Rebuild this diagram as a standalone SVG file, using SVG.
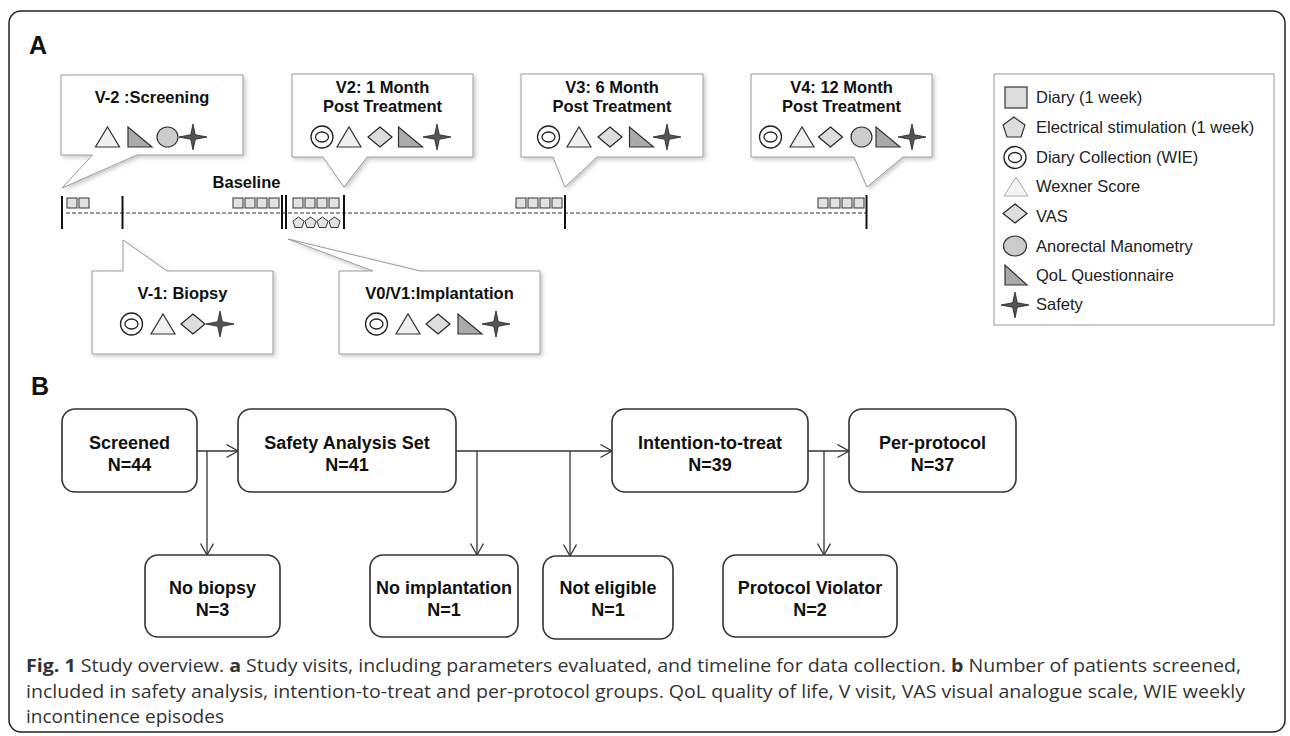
<svg xmlns="http://www.w3.org/2000/svg" width="1290" height="736" viewBox="0 0 1290 736">
<defs>
<style>
.panel{font-family:"Liberation Sans",Arial,sans-serif;font-weight:bold;font-size:25px;fill:#111}
.ct{font-family:"Liberation Sans",Arial,sans-serif;font-weight:bold;font-size:16.5px;fill:#111;text-anchor:middle}
.callout{fill:#fff;stroke:#9a9a9a;stroke-width:1;filter:url(#sh)}
.lg{font-family:"Liberation Sans",Arial,sans-serif;font-size:16.5px;fill:#222}
.nb{fill:#fff;stroke:#333;stroke-width:1.6}
.nt{font-family:"Liberation Sans",Arial,sans-serif;font-weight:bold;font-size:18px;fill:#111;text-anchor:middle}
.cn{fill:none;stroke:#333;stroke-width:1.3;marker-end:url(#ah)}
.tick{stroke:#111;stroke-width:2}
.cap{font-family:"Open Sans","Liberation Sans",sans-serif;font-size:18.5px;fill:#333}
.sq{fill:#e2e2e2;stroke:#333;stroke-width:1}
</style>
<filter id="sh" x="-10%" y="-10%" width="130%" height="130%">
<feDropShadow dx="2" dy="2" stdDeviation="2" flood-color="#000" flood-opacity="0.22"/>
</filter>
<marker id="ah" markerUnits="userSpaceOnUse" markerWidth="16" markerHeight="16" refX="12" refY="7" orient="auto">
<path d="M0.5,0.5 L12,7 L0.5,13.5" fill="none" stroke="#333" stroke-width="1.3"/>
</marker>
<g id="dc"><circle r="11" fill="#fff" stroke="#222" stroke-width="1.3"/><ellipse rx="6.5" ry="5" fill="#fff" stroke="#222" stroke-width="1.3"/></g>
<polygon id="tri" points="-12,10 12,10 0,-10" fill="#f0f0f0" stroke="#333" stroke-width="1.2"/>
<polygon id="dia" points="0,-10 12,0 0,10 -12,0" fill="#ddd" stroke="#222" stroke-width="1.2"/>
<polygon id="rt" points="-12,-10 -12,10 12,10" fill="#aaa" stroke="#333" stroke-width="1.2"/>
<ellipse id="ci" rx="10.5" ry="10" fill="#ccc" stroke="#333" stroke-width="1.2"/>
<path id="st" d="M0,-13 L2.3,-2.3 L14,0 L2.3,2.3 L0,13 L-2.3,2.3 L-14,0 L-2.3,-2.3 Z" fill="#555" stroke="#222" stroke-width="0.8"/>
<polygon id="pe" points="0,-5.5 5.6,-1.4 3.5,5 -3.5,5 -5.6,-1.4" fill="#e2e2e2" stroke="#333" stroke-width="1"/>
</defs>
<rect width="1290" height="736" fill="#fff"/>
<rect x="9" y="11" width="1276" height="721" rx="12" fill="none" stroke="#222" stroke-width="1.5"/>

<text class="panel" x="29" y="54">A</text>
<text class="panel" x="31" y="395">B</text>

<!-- timeline -->
<g id="timeline">
<line x1="66" y1="213" x2="866" y2="213" stroke="#333" stroke-width="1" stroke-dasharray="4 2"/>
<line class="tick" x1="62" y1="196" x2="62" y2="229"/>
<line class="tick" x1="122.5" y1="196" x2="122.5" y2="229"/>
<line class="tick" x1="282" y1="195" x2="282" y2="229"/>
<line class="tick" x1="286" y1="195" x2="286" y2="229"/>
<line class="tick" x1="344" y1="195" x2="344" y2="229"/>
<line class="tick" x1="565" y1="195" x2="565" y2="229"/>
<line class="tick" x1="866.5" y1="195" x2="866.5" y2="229"/>
<rect class="sq" x="67" y="198" width="10" height="10"/><rect class="sq" x="79" y="198" width="10" height="10"/>
<rect class="sq" x="233" y="198" width="10" height="10"/><rect class="sq" x="245" y="198" width="10" height="10"/><rect class="sq" x="257" y="198" width="10" height="10"/><rect class="sq" x="269" y="198" width="10" height="10"/>
<rect class="sq" x="293" y="198" width="10" height="10"/><rect class="sq" x="305" y="198" width="10" height="10"/><rect class="sq" x="317" y="198" width="10" height="10"/><rect class="sq" x="329" y="198" width="10" height="10"/>
<rect class="sq" x="516" y="198" width="10" height="10"/><rect class="sq" x="528" y="198" width="10" height="10"/><rect class="sq" x="540" y="198" width="10" height="10"/><rect class="sq" x="552" y="198" width="10" height="10"/>
<rect class="sq" x="818" y="198" width="10" height="10"/><rect class="sq" x="830" y="198" width="10" height="10"/><rect class="sq" x="842" y="198" width="10" height="10"/><rect class="sq" x="854" y="198" width="10" height="10"/>
<use href="#pe" x="298.5" y="222.5"/><use href="#pe" x="310.5" y="222.5"/><use href="#pe" x="322.5" y="222.5"/><use href="#pe" x="334.5" y="222.5"/>
<text class="ct" x="246.5" y="188">Baseline</text>
</g>

<!-- callouts -->
<g id="v-2">
<path class="callout" d="M61,75 H243 V155 H137 L62,188 L92.5,155 H61 Z"/>
<text class="ct" x="152" y="103">V-2 :Screening</text>
<use href="#tri" x="107.5" y="137"/><use href="#rt" x="140" y="137"/><use href="#ci" x="167.5" y="137"/><use href="#st" x="193" y="137"/>
</g>
<g id="v2">
<path class="callout" d="M292,74 H473 V157 H367 L344,187 L323,157 H292 Z"/>
<text class="ct" x="382.5" y="93">V2: 1 Month</text>
<text class="ct" x="382.5" y="112">Post Treatment</text>
<use href="#dc" x="322" y="137"/><use href="#tri" x="349" y="137"/><use href="#dia" x="380" y="137"/><use href="#rt" x="410.5" y="137"/><use href="#st" x="437" y="137"/>
</g>
<g id="v3">
<path class="callout" d="M521,74 H703 V157 H597 L565,187 L553,157 H521 Z"/>
<text class="ct" x="612" y="93">V3: 6 Month</text>
<text class="ct" x="612" y="112">Post Treatment</text>
<use href="#dc" x="548.5" y="137"/><use href="#tri" x="579" y="137"/><use href="#dia" x="610" y="137"/><use href="#rt" x="641.5" y="137"/><use href="#st" x="667" y="137"/>
</g>
<g id="v4">
<path class="callout" d="M751,74 H932 V157 H903 L867,187 L854,157 H751 Z"/>
<text class="ct" x="841.5" y="93">V4: 12 Month</text>
<text class="ct" x="841.5" y="112">Post Treatment</text>
<use href="#dc" x="770.5" y="137"/><use href="#tri" x="802" y="137"/><use href="#dia" x="830.5" y="137"/><use href="#ci" x="861.5" y="137"/><use href="#rt" x="888" y="137"/><use href="#st" x="912" y="137"/>
</g>
<g id="v-1">
<path class="callout" d="M92,271 H123 V240 L167,271 H273 V354 H92 Z"/>
<text class="ct" x="182.5" y="299">V-1: Biopsy</text>
<use href="#dc" x="131.5" y="324"/><use href="#tri" x="163" y="324"/><use href="#dia" x="193" y="324"/><use href="#st" x="220" y="324"/>
</g>
<g id="v0v1">
<path class="callout" d="M339,271 H373 L288,239 L420,271 H540 V354 H339 Z"/>
<text class="ct" x="439.5" y="299">V0/V1:Implantation</text>
<use href="#dc" x="376.5" y="324"/><use href="#tri" x="408" y="324"/><use href="#dia" x="438" y="324"/><use href="#rt" x="470" y="324"/><use href="#st" x="496" y="324"/>
</g>

<!-- legend -->
<g id="legend">
<rect x="994" y="74" width="280" height="251" fill="#fff" stroke="#999" stroke-width="1"/>
<rect x="1005" y="87" width="22" height="21" fill="#ddd" stroke="#333" stroke-width="1.2"/>
<text class="lg" x="1036" y="103">Diary (1 week)</text>
<polygon points="1014,117 1025,125 1021,137 1007,137 1003,125" fill="#ddd" stroke="#333" stroke-width="1.2"/>
<text class="lg" x="1036" y="133">Electrical stimulation (1 week)</text>
<use href="#dc" x="1015" y="157.5"/>
<text class="lg" x="1036" y="163">Diary Collection (WIE)</text>
<polygon points="1004,196 1028,196 1016,177" fill="#f4f4f4" stroke="#aaa" stroke-width="1"/>
<text class="lg" x="1036" y="192">Wexner Score</text>
<polygon points="1015,204 1027,213.5 1015,223 1003,213.5" fill="#ddd" stroke="#222" stroke-width="1.2"/>
<text class="lg" x="1036" y="222">VAS</text>
<ellipse cx="1015" cy="246" rx="11.5" ry="10" fill="#ccc" stroke="#333" stroke-width="1.2"/>
<text class="lg" x="1036" y="252">Anorectal Manometry</text>
<polygon points="1005,265 1005,285 1027,285" fill="#aaa" stroke="#333" stroke-width="1.2"/>
<text class="lg" x="1036" y="281">QoL Questionnaire</text>
<use href="#st" x="1015" y="305"/>
<text class="lg" x="1036" y="310">Safety</text>
</g>

<!-- flowchart connectors -->
<g id="connectors">
<path class="cn" d="M197,451 H238"/>
<path class="cn" d="M207,451 V555"/>
<path class="cn" d="M456,451 H612"/>
<path class="cn" d="M477,451 V555"/>
<path class="cn" d="M570,451 V556"/>
<path class="cn" d="M808,451 H849"/>
<path class="cn" d="M824,451 V555"/>
</g>

<g id="screened"><rect class="nb" x="62" y="409" width="135" height="83" rx="13"/><text class="nt" x="129.5" y="449">Screened</text><text class="nt" x="129.5" y="471">N=44</text></g>
<g id="safety"><rect class="nb" x="238" y="409" width="218" height="83" rx="13"/><text class="nt" x="347" y="449">Safety Analysis Set</text><text class="nt" x="347" y="471">N=41</text></g>
<g id="itt"><rect class="nb" x="612" y="409" width="196" height="83" rx="13"/><text class="nt" x="710" y="449">Intention-to-treat</text><text class="nt" x="710" y="471">N=39</text></g>
<g id="pp"><rect class="nb" x="849" y="409" width="167" height="83" rx="13"/><text class="nt" x="932.5" y="449">Per-protocol</text><text class="nt" x="932.5" y="471">N=37</text></g>
<g id="nobiopsy"><rect class="nb" x="145" y="555" width="135" height="82" rx="13"/><text class="nt" x="212.5" y="594">No biopsy</text><text class="nt" x="212.5" y="616">N=3</text></g>
<g id="noimpl"><rect class="nb" x="370" y="555" width="148" height="82" rx="13"/><text class="nt" x="444" y="594">No implantation</text><text class="nt" x="444" y="616">N=1</text></g>
<g id="notelig"><rect class="nb" x="543" y="556" width="130" height="83" rx="13"/><text class="nt" x="608" y="594">Not eligible</text><text class="nt" x="608" y="616">N=1</text></g>
<g id="pviol"><rect class="nb" x="723" y="555" width="174" height="82" rx="13"/><text class="nt" x="810" y="594">Protocol Violator</text><text class="nt" x="810" y="616">N=2</text></g>

<g id="caption">
<text class="cap" x="26" y="672" textLength="1215" lengthAdjust="spacingAndGlyphs"><tspan font-weight="bold">Fig. 1</tspan> Study overview. <tspan font-weight="bold">a</tspan> Study visits, including parameters evaluated, and timeline for data collection. <tspan font-weight="bold">b</tspan> Number of patients screened,</text>
<text class="cap" x="26" y="698" textLength="1219" lengthAdjust="spacingAndGlyphs">included in safety analysis, intention-to-treat and per-protocol groups. QoL quality of life, V visit, VAS visual analogue scale, WIE weekly</text>
<text class="cap" x="26" y="723" textLength="198" lengthAdjust="spacingAndGlyphs">incontinence episodes</text>
</g>
</svg>
